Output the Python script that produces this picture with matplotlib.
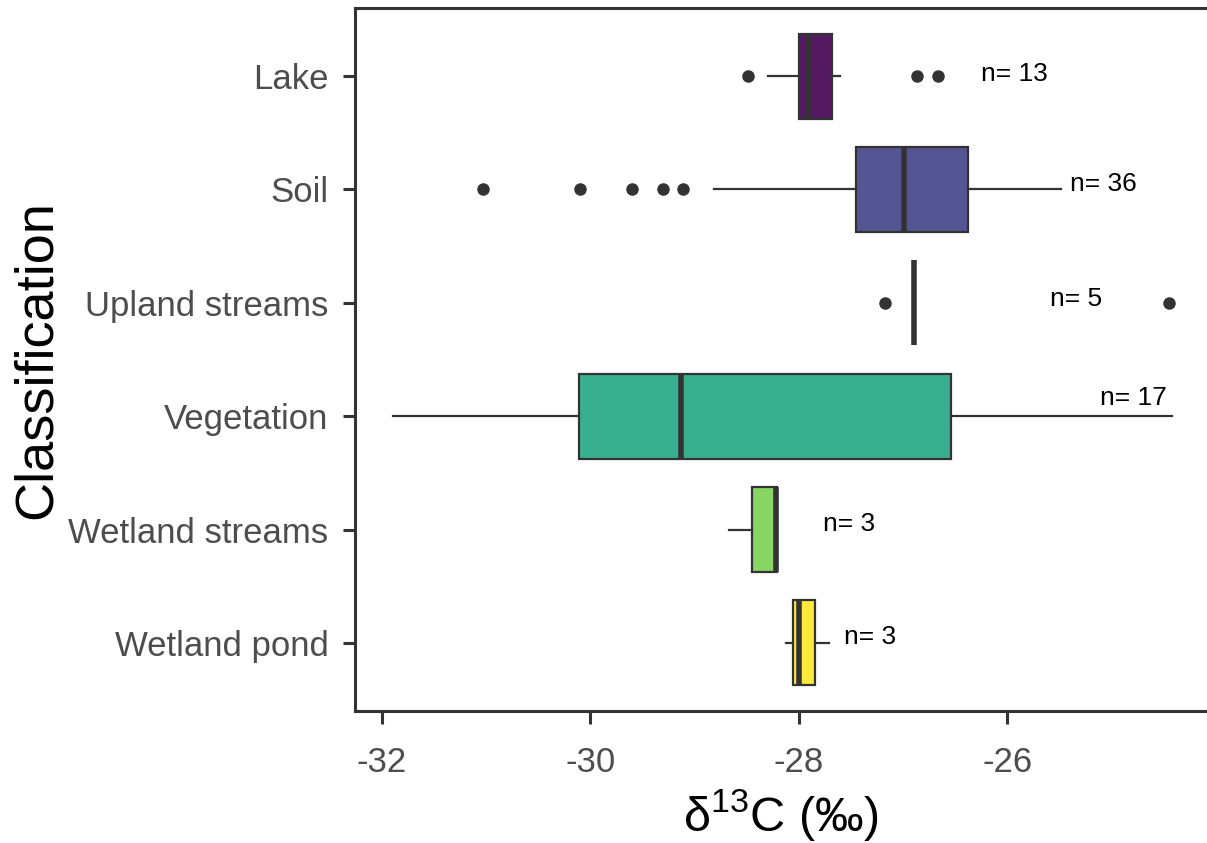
import numpy as np
import matplotlib.pyplot as plt
from matplotlib.colors import to_rgba

plt.rcParams['font.family'] = ['Liberation Sans', 'DejaVu Sans']
plt.rcParams['mathtext.fontset'] = 'custom'
plt.rcParams['mathtext.rm'] = 'Liberation Sans'
plt.rcParams['mathtext.it'] = 'Liberation Sans:italic'

# box plot summaries for d13C by site classification
classes = ['Lake', 'Soil', 'Upland streams', 'Vegetation', 'Wetland streams', 'Wetland pond']
q1 = [-28.00, -27.45, -26.89, -30.11, -28.45, -28.06]
med = [-27.91, -26.99, -26.89, -29.13, -28.22, -28.00]
q3 = [-27.68, -26.38, -26.89, -26.54, -28.21, -27.84]
whislo = [-28.30, -28.81, -26.89, -31.89, -28.67, -28.12]
whishi = [-27.60, -25.48, -26.89, -24.42, -28.21, -27.71]
fliers = [
    [-28.49, -26.87, -26.66],
    [-31.03, -30.10, -29.60, -29.30, -29.11],
    [-27.17, -24.45],
    [],
    [],
    [],
]
n_obs = [13, 36, 5, 17, 3, 3]
# where each n label sits (x start, y offset from the box centre)
n_x = [-26.25, -25.40, -25.59, -25.11, -27.77, -27.57]
n_dy = [-0.02, -0.05, -0.03, -0.16, -0.05, -0.05]

colors = ['#440154', '#414487', '#2A788E', '#22A884', '#7AD151', '#FDE725']

stats = []
for i in range(len(classes)):
    stats.append(dict(label=classes[i], q1=q1[i], med=med[i], q3=q3[i],
                      whislo=whislo[i], whishi=whishi[i], fliers=fliers[i]))

fig = plt.figure(figsize=(12.07, 8.43), dpi=100)
ax = fig.add_axes([0.2941, 0.1566, 0.7059, 0.8339])

pos = np.arange(1, len(classes) + 1)
bp = ax.bxp(stats, positions=pos, vert=False, widths=0.75, patch_artist=True,
            showcaps=False,
            boxprops=dict(edgecolor='#333333', linewidth=1.6),
            medianprops=dict(color='#333333', linewidth=4, solid_capstyle='butt'),
            whiskerprops=dict(color='#333333', linewidth=1.6),
            flierprops=dict(marker='o', markersize=8, markerfacecolor='#333333',
                            markeredgecolor='#333333'))
for patch, c in zip(bp['boxes'], colors):
    patch.set_facecolor(to_rgba(c, 0.9))

for i in range(len(classes)):
    ax.text(n_x[i], pos[i] + n_dy[i], 'n= %d' % n_obs[i], fontsize=19,
            color='black', va='center', ha='left')

ax.set_xlim(-32.259, -24.083)
ax.set_ylim(6.6, 0.4)
ax.set_xticks([-32, -30, -28, -26])
ax.set_xticklabels(['-32', '-30', '-28', '-26'])
ax.set_yticks(pos)
ax.set_yticklabels(classes)

ax.tick_params(axis='both', labelsize=25, labelcolor='#4D4D4D', color='#333333',
               length=9, width=2.2)
ax.tick_params(axis='x', pad=16)
ax.tick_params(axis='y', pad=10)
for side in ['left', 'bottom', 'top']:
    ax.spines[side].set_color('#333333')
    ax.spines[side].set_linewidth(2.2)
ax.spines['right'].set_visible(False)

ax.set_xlabel('δ$^{13}$C (‰)', fontsize=35, labelpad=6)
ax.set_ylabel('Classification', fontsize=39, labelpad=5)

fig.savefig('out.png', dpi=100)
